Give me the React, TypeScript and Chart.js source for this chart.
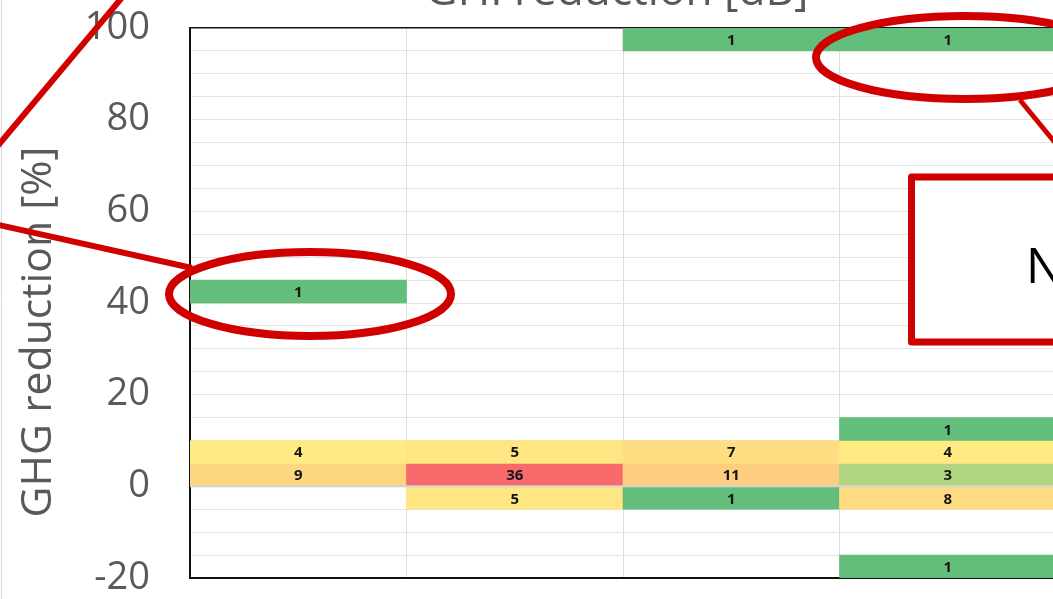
import React, { useEffect, useRef } from 'react';
import { Chart, registerables } from 'chart.js';

Chart.register(...registerables);

// ---- data ----
const columns = ['Col 1', 'Col 2', 'Col 3', 'Col 4'];
const rowBands: [number, number][] = [
  [95, 100],
  [40, 45],
  [10, 15],
  [5, 10],
  [0, 5],
  [-5, 0],
  [-20, -15],
];
const row95to100 = [null, null, 1, 1];
const row40to45 = [1, null, null, null];
const row10to15 = [null, null, null, 1];
const row5to10 = [4, 5, 7, 4];
const row0to5 = [9, 36, 11, 3];
const rowM5to0 = [null, 5, 1, 8];
const rowM20toM15 = [null, null, null, 1];
const rowCounts: (number | null)[][] = [
  row95to100,
  row40to45,
  row10to15,
  row5to10,
  row0to5,
  rowM5to0,
  rowM20toM15,
];
const yTickLabels = [-20, 0, 20, 40, 60, 80, 100];
const yMin = -20;
const yMax = 100;
const yStep = 5;
const xTitle = 'GHI reduction [dB]';
const yTitle = 'GHG reduction [%]';
const noteText = 'N';

// ---- colour scale (green - yellow - red) ----
const colorStops: [number, [number, number, number]][] = [
  [1, [0x63, 0xbe, 0x7b]],
  [3, [0xb1, 0xd5, 0x80]],
  [4, [0xff, 0xea, 0x84]],
  [36, [0xf8, 0x69, 0x6b]],
];
function colorFor(v: number | null): string {
  if (v == null) return 'rgba(0,0,0,0)';
  if (v <= colorStops[0][0]) {
    const c = colorStops[0][1];
    return `rgb(${c[0]},${c[1]},${c[2]})`;
  }
  for (let i = 1; i < colorStops.length; i++) {
    const [v1, c1] = colorStops[i];
    const [v0, c0] = colorStops[i - 1];
    if (v <= v1) {
      const t = (v - v0) / (v1 - v0);
      const c = c0.map((a, k) => Math.round(a + (c1[k] - a) * t));
      return `rgb(${c[0]},${c[1]},${c[2]})`;
    }
  }
  const c = colorStops[colorStops.length - 1][1];
  return `rgb(${c[0]},${c[1]},${c[2]})`;
}

const RED = '#D10000';

const cellLabelPlugin = {
  id: 'cellLabels',
  afterDatasetsDraw(chart: any) {
    const ctx = chart.ctx;
    const area = chart.chartArea;
    const y0 = chart.scales.y.getPixelForValue(0);
    ctx.save();
    ctx.strokeStyle = '#D4D4D4';
    ctx.lineWidth = 2;
    ctx.beginPath();
    ctx.moveTo(area.left, y0);
    ctx.lineTo(area.right, y0);
    ctx.stroke();

    ctx.fillStyle = '#151515';
    ctx.font = 'bold 15px "Open Sans"';
    ctx.textAlign = 'center';
    ctx.textBaseline = 'alphabetic';
    chart.data.datasets.forEach((ds: any, di: number) => {
      const meta = chart.getDatasetMeta(di);
      meta.data.forEach((el: any, i: number) => {
        const v = rowCounts[di][i];
        if (v == null) return;
        const cy = (el.y + el.base) / 2;
        ctx.fillText(String(v), el.x, cy + 5.5);
      });
    });
    ctx.restore();
  },
};

function fitFont(ctx: CanvasRenderingContext2D, text: string, target: number, family: string) {
  ctx.font = `100px ${family}`;
  const w = ctx.measureText(text).width;
  return (100 * target) / w;
}

const overlayPlugin = {
  id: 'overlay',
  afterDraw(chart: any) {
    const ctx: CanvasRenderingContext2D = chart.ctx;
    ctx.save();

    const fam = '"Open Sans"';
    ctx.fillStyle = '#595959';
    const xs = fitFont(ctx, xTitle, 383, fam);
    ctx.font = `${xs}px ${fam}`;
    ctx.textAlign = 'center';
    ctx.textBaseline = 'alphabetic';
    ctx.fillText(xTitle, 617, 5);

    const ys = fitFont(ctx, yTitle, 371, fam);
    ctx.save();
    ctx.translate(51, 332);
    ctx.rotate(-Math.PI / 2);
    ctx.font = `${ys}px ${fam}`;
    ctx.textAlign = 'center';
    ctx.textBaseline = 'alphabetic';
    ctx.fillText(yTitle, 0, 0);
    ctx.restore();

    ctx.strokeStyle = '#DADADA';
    ctx.lineWidth = 1;
    ctx.beginPath();
    ctx.moveTo(1.5, 0);
    ctx.lineTo(1.5, 599);
    ctx.stroke();

    ctx.strokeStyle = RED;
    ctx.lineCap = 'butt';

    ctx.lineWidth = 6;
    ctx.beginPath();
    ctx.moveTo(130, -12);
    ctx.lineTo(-10, 155);
    ctx.stroke();

    ctx.beginPath();
    ctx.moveTo(-10, 223);
    ctx.lineTo(192, 268);
    ctx.stroke();

    ctx.lineWidth = 5;
    ctx.beginPath();
    ctx.moveTo(1020, 100);
    ctx.lineTo(1080, 173);
    ctx.stroke();

    ctx.lineWidth = 8;
    ctx.beginPath();
    ctx.ellipse(310, 294, 141, 42, 0, 0, Math.PI * 2);
    ctx.stroke();

    ctx.beginPath();
    ctx.ellipse(965, 57.5, 149, 41.5, 0, 0, Math.PI * 2);
    ctx.stroke();

    ctx.fillStyle = '#FFFFFF';
    ctx.fillRect(911, 177, 300, 165);
    ctx.lineWidth = 7;
    ctx.lineJoin = 'round';
    ctx.strokeRect(911.5, 177, 300, 165);

    ctx.fillStyle = '#000000';
    ctx.font = `49px ${fam}`;
    ctx.textAlign = 'left';
    ctx.textBaseline = 'alphabetic';
    ctx.fillText(noteText, 1026, 283);

    ctx.restore();
  },
};

export default function App() {
  const ref = useRef<HTMLCanvasElement | null>(null);

  useEffect(() => {
    if (!ref.current) return;
    const datasets = rowBands.map((band, i) => ({
      label: `${band[0]} to ${band[1]}`,
      data: rowCounts[i].map((v) => (v == null ? null : [band[0], band[1]])),
      backgroundColor: rowCounts[i].map((v) => colorFor(v)),
      borderWidth: 0,
      grouped: false,
      barPercentage: 1,
      categoryPercentage: 1,
    }));

    const chart = new Chart(ref.current, {
      type: 'bar',
      data: { labels: columns, datasets: datasets as any },
      options: {
        responsive: false,
        animation: false,
        devicePixelRatio: 1,
        layout: { padding: { top: 28, bottom: 21, left: 0, right: 44 } },
        plugins: {
          legend: { display: false },
          tooltip: { enabled: false },
          title: { display: false },
        },
        scales: {
          x: {
            type: 'category',
            offset: true,
            grid: { offset: true, color: '#DDDDDD', lineWidth: 1, drawTicks: false },
            ticks: { display: false },
            border: { display: true, color: '#111111', width: 2 },
            afterFit: (s: any) => {
              s.height = 0;
              s.paddingLeft = 0;
              s.paddingRight = 0;
              s.paddingTop = 0;
              s.paddingBottom = 0;
            },
          },
          y: {
            type: 'linear',
            min: yMin,
            max: yMax,
            ticks: {
              stepSize: yStep,
              autoSkip: false,
              padding: 40,
              color: '#595959',
              font: { family: 'Open Sans', size: 38 },
              callback: (v: any) => (yTickLabels.includes(Number(v)) ? String(v) : ''),
            },
            grid: {
              drawTicks: false,
              color: (c: any) => (c.tick && c.tick.value === yMax ? '#111111' : '#E4E4E4'),
              lineWidth: (c: any) => (c.tick && c.tick.value === yMax ? 1.5 : 1),
            },
            border: { display: true, color: '#111111', width: 2 },
            afterFit: (s: any) => {
              s.width = 190;
              s.paddingTop = 0;
              s.paddingBottom = 0;
              s.paddingLeft = 0;
              s.paddingRight = 0;
            },
          },
        },
      },
      plugins: [cellLabelPlugin, overlayPlugin],
    });
    return () => chart.destroy();
  }, []);

  return (
    <div
      style={{
        position: 'fixed',
        left: 0,
        top: 0,
        width: 1053,
        height: 599,
        overflow: 'hidden',
        background: '#FFFFFF',
      }}
    >
      <canvas ref={ref} width={1100} height={599} style={{ display: 'block' }} />
    </div>
  );
}
